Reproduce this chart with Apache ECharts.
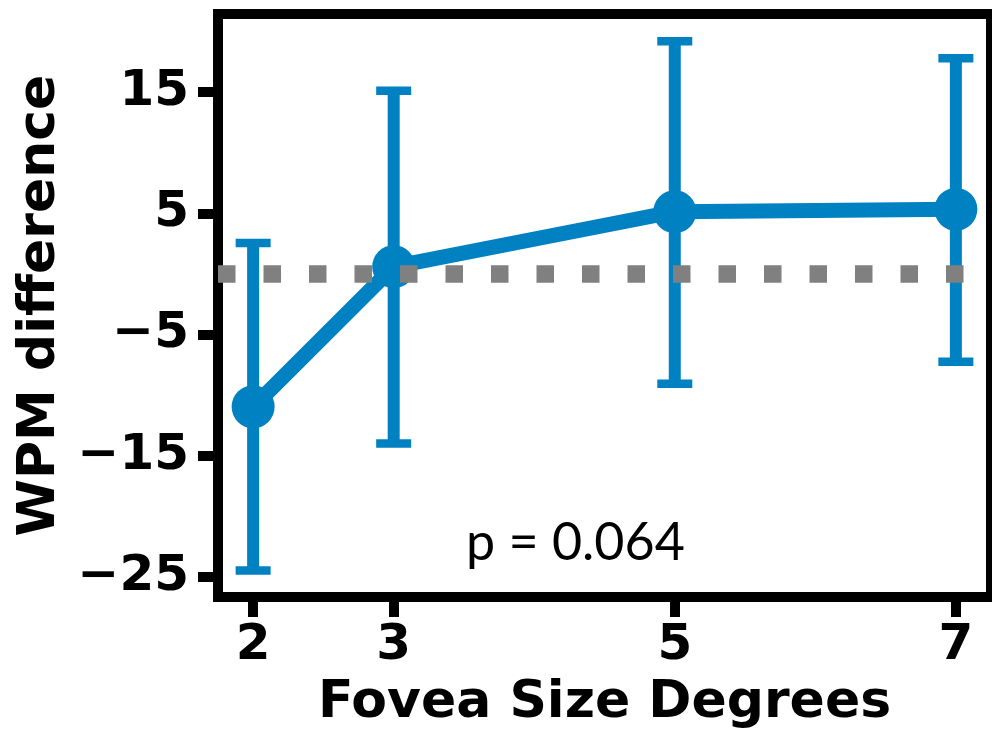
<!DOCTYPE html>
<html>
<head>
<meta charset="utf-8">
<title>WPM difference</title>
<script src="https://cdn.jsdelivr.net/npm/echarts@6/dist/echarts.min.js"></script>
<style>
    html, body { margin: 0; padding: 0; background: #ffffff; }
    #wpmChart { width: 992px; height: 731px; }
</style>
</head>
<body>
<div id="wpmChart"></div>
<script>
// --- Data ---
const foveaSizes = [2, 3, 5, 7];
const wpmMeans = [-10.98, 0.59, 5.13, 5.33];
const wpmLow = [-24.5, -14.0, -9.07, -7.25];
const wpmHigh = [2.55, 15.12, 19.21, 17.79];
const xTicks = [2, 3, 5, 7];
const yTicks = [-25, -15, -5, 5, 15];
const pText = 'p = 0.064';

document.addEventListener("DOMContentLoaded", function () {

    const chartElement = document.getElementById('wpmChart');
    if (!chartElement) return;

    const blue = '#0081c1';
    const tickFont = { color: '#000', fontFamily: 'DejaVu Sans', fontWeight: 'bold', fontSize: 50 };
    const nameFont = { color: '#000', fontFamily: 'DejaVu Sans', fontWeight: 'bold', fontSize: 52 };

    // rows for the series: [x, mean] and [x, low, high]
    const meanRows = foveaSizes.map((x, i) => [x, wpmMeans[i]]);
    const errRows = foveaSizes.map((x, i) => [x, wpmLow[i], wpmHigh[i]]);

    try {
        const chart = echarts.init(chartElement, null, { renderer: 'canvas' });
        const option = {
            animation: false,
            grid: {
                left: 218, right: 1, top: 14, bottom: 134,
                outerBoundsMode: 'none',
                containLabel: false,
                show: true, borderColor: '#000', borderWidth: 10,
                backgroundColor: 'transparent'
            },
            xAxis: {
                type: 'value',
                min: 1.75, max: 7.25,
                name: 'Fovea Size Degrees',
                nameLocation: 'middle',
                nameGap: 80,
                nameTextStyle: nameFont,
                axisLine: { show: false, onZero: false },
                splitLine: { show: false },
                axisTick: { show: true, length: 20, customValues: xTicks, lineStyle: { color: '#000', width: 10 } },
                axisLabel: { customValues: xTicks, margin: 24, ...tickFont }
            },
            yAxis: {
                type: 'value',
                min: -26.68, max: 21.45,
                name: 'WPM difference',
                nameLocation: 'middle',
                nameGap: 150,
                nameTextStyle: nameFont,
                axisLine: { show: false, onZero: false },
                splitLine: { show: false },
                axisTick: { show: true, length: 20, customValues: yTicks, lineStyle: { color: '#000', width: 10 } },
                axisLabel: {
                    customValues: yTicks, margin: 29, ...tickFont,
                    formatter: v => String(v).replace('-', '\u2212')
                }
            },
            series: [{
                // zero reference line (dotted, grey)
                type: 'line',
                data: [],
                z: 1,
                markLine: {
                    silent: true,
                    symbol: ['none', 'none'],
                    label: { show: false },
                    lineStyle: { color: '#808080', width: 17.5, type: [17.5, 28], cap: 'butt' },
                    data: [{ yAxis: 0 }]
                }
            }, {
                // error bars with caps
                type: 'custom',
                z: 2,
                data: errRows,
                renderItem: function (params, api) {
                    const x = api.value(0);
                    const lo = api.coord([x, api.value(1)]);
                    const hi = api.coord([x, api.value(2)]);
                    const half = 17.5;
                    return {
                        type: 'group',
                        children: [
                            { type: 'line', shape: { x1: lo[0], y1: lo[1], x2: hi[0], y2: hi[1] }, style: { stroke: blue, lineWidth: 12 } },
                            { type: 'line', shape: { x1: hi[0] - half, y1: hi[1], x2: hi[0] + half, y2: hi[1] }, style: { stroke: blue, lineWidth: 8.5 } },
                            { type: 'line', shape: { x1: lo[0] - half, y1: lo[1], x2: lo[0] + half, y2: lo[1] }, style: { stroke: blue, lineWidth: 8.5 } }
                        ]
                    };
                }
            }, {
                type: 'line',
                z: 3,
                data: meanRows,
                symbol: 'circle',
                symbolSize: 43,
                itemStyle: { color: blue },
                lineStyle: { color: blue, width: 15 }
            }],
            graphic: [{
                type: 'text',
                x: 466,
                y: 543,
                style: {
                    text: pText,
                    font: 'normal 52px Lato',
                    fill: '#000',
                    verticalAlign: 'middle'
                }
            }]
        };
        chart.setOption(option);
        window.addEventListener('resize', function () {
            chart.resize();
        });
    } catch (e) {
        console.error("Chart could not be drawn:", e);
    }
});
</script>
</body>
</html>
